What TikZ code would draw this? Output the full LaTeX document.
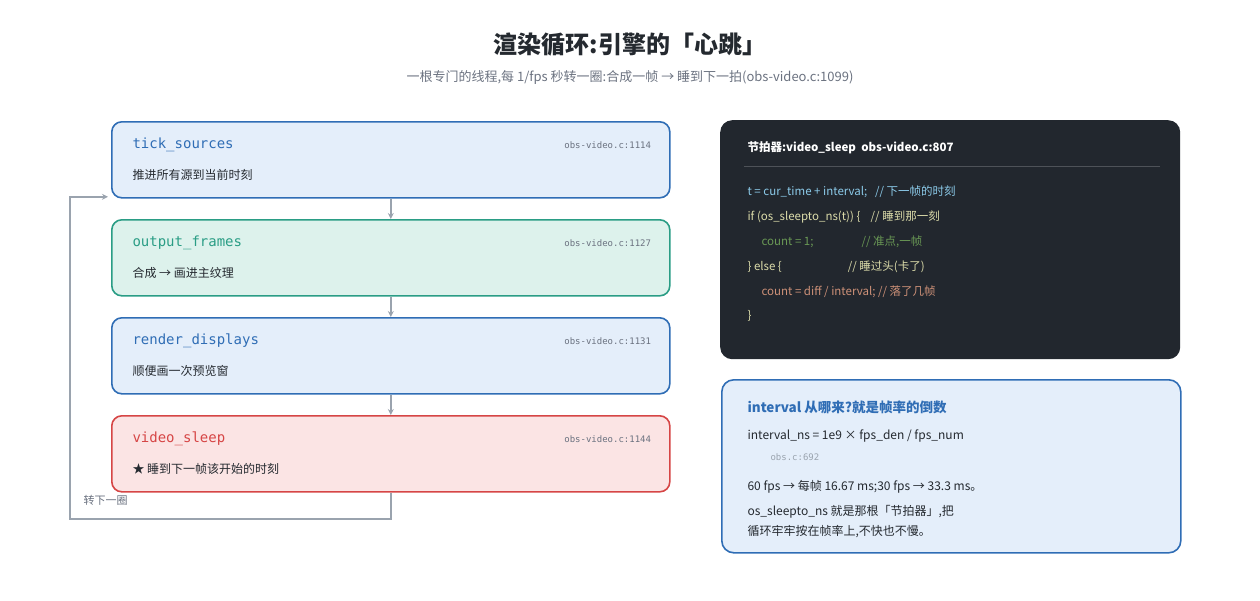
\documentclass[tikz,border=0pt]{standalone}
\usepackage{fontspec}
\setmainfont{Noto Sans CJK SC}
\setmonofont{DejaVu Sans Mono}
\usetikzlibrary{positioning,arrows.meta}
\definecolor{ink}{HTML}{24292F}
\definecolor{sub}{HTML}{6B7280}
\definecolor{bluel}{HTML}{2F6DB5}
\definecolor{bluef}{HTML}{E4EEFA}
\definecolor{greenl}{HTML}{2A9D85}
\definecolor{greenf}{HTML}{DDF2EC}
\definecolor{redl}{HTML}{D64545}
\definecolor{redf}{HTML}{FBE4E4}
\definecolor{codebg}{HTML}{22272E}
\definecolor{cblue}{HTML}{8CCBEA}
\definecolor{cyel}{HTML}{DCDCAA}
\definecolor{cgreen}{HTML}{6A9955}
\definecolor{corange}{HTML}{CE9178}
\definecolor{loopc}{HTML}{9AA3AE}
\tikzset{
  step/.style 2 args={draw=#1,fill=#2,line width=1.6pt,rounded corners=10pt,
    minimum width=558pt,minimum height=76pt,anchor=north west,inner sep=0pt},
  fname/.style={anchor=west,font=\ttfamily\fontsize{14}{16}\selectfont,text=#1},
  fref/.style={anchor=east,font=\ttfamily\fontsize{9}{11}\selectfont,text=sub},
  fdesc/.style={anchor=west,font=\fontsize{12}{14}\selectfont,text=ink},
  cline/.style={anchor=west,font=\fontsize{11.5}{14}\selectfont,text=#1},
  iline/.style={anchor=west,font=\fontsize{12}{14}\selectfont,text=ink},
  flow/.style={draw=loopc,line width=2pt,-{Stealth[length=6pt,width=6pt]}}
}
\begin{document}
\begin{tikzpicture}[x=1pt,y=-1pt]
\useasboundingbox (0,0) rectangle (1260,600);
% title
\node[font=\bfseries\fontsize{24}{28}\selectfont,text=ink] (title) at (630,45) {渲染循环:引擎的「心跳」};
\node[font=\fontsize{13}{16}\selectfont,text=sub] (subtitle) at (630,77) {一根专门的线程,每 1/fps 秒转一圈:合成一帧 → 睡到下一拍(obs-video.c:1099)};

% loop steps
\node[step={bluel}{bluef}] (tick) at (111,121) {};
\node[step={greenl}{greenf}] (output) at (111,219) {};
\node[step={bluel}{bluef}] (render) at (111,317) {};
\node[step={redl}{redf}] (sleep) at (111,415) {};

\node[fname=bluel] (tickN) at ([shift={(18,24)}]tick.north west) {tick\_sources};
\node[fref] (tickR) at ([shift={(-16,24)}]tick.north east) {obs-video.c:1114};
\node[fdesc] (tickD) at ([shift={(18,54)}]tick.north west) {推进所有源到当前时刻};

\node[fname=greenl] (outputN) at ([shift={(18,24)}]output.north west) {output\_frames};
\node[fref] (outputR) at ([shift={(-16,24)}]output.north east) {obs-video.c:1127};
\node[fdesc] (outputD) at ([shift={(18,54)}]output.north west) {合成 → 画进主纹理};

\node[fname=bluel] (renderN) at ([shift={(18,24)}]render.north west) {render\_displays};
\node[fref] (renderR) at ([shift={(-16,24)}]render.north east) {obs-video.c:1131};
\node[fdesc] (renderD) at ([shift={(18,54)}]render.north west) {顺便画一次预览窗};

\node[fname=redl] (sleepN) at ([shift={(18,24)}]sleep.north west) {video\_sleep};
\node[fref] (sleepR) at ([shift={(-16,24)}]sleep.north east) {obs-video.c:1144};
\node[fdesc] (sleepD) at ([shift={(18,54)}]sleep.north west) {★ 睡到下一帧该开始的时刻};

\draw[flow] (tick.south) -- (output.north);
\draw[flow] (output.south) -- (render.north);
\draw[flow] (render.south) -- (sleep.north);

% back to the top
\coordinate (loopA) at (70,519);
\draw[flow] (sleep.south) |- (loopA) |- ([xshift=-3pt,yshift=-37pt]tick.west);
\node[anchor=west,font=\fontsize{11}{13}\selectfont,text=sub] (loopL) at (80,500) {转下一圈};

% code panel
\node[fill=codebg,rounded corners=12pt,minimum width=460pt,minimum height=239pt,anchor=north west] (code) at (720,120) {};
\node[cline=white,font=\bfseries\fontsize{11.5}{14}\selectfont] (codeH) at ([shift={(24,28)}]code.north west) {节拍器:video\_sleep\ \ obs-video.c:807};
\draw[white!20!codebg,line width=0.8pt] ([shift={(24,46)}]code.north west) -- ([shift={(-20,46)}]code.north east);
\node[cline=cblue] (c1) at ([shift={(24,72)}]code.north west) {t = cur\_time + interval;\ \ \ // 下一帧的时刻};
\node[cline=cyel] (c2) at ([shift={(24,97)}]code.north west) {if (os\_sleepto\_ns(t)) \{\ \ \ \ // 睡到那一刻};
\node[cline=cgreen] (c3) at ([shift={(38,122)}]code.north west) {count = 1;\hspace{48pt}// 准点,一帧};
\node[cline=cyel] (c4) at ([shift={(24,147)}]code.north west) {\} else \{\hspace{66pt}// 睡过头(卡了)};
\node[cline=corange] (c5) at ([shift={(38,172)}]code.north west) {count = diff / interval; // 落了几帧};
\node[cline=cyel] (c6) at ([shift={(24,196)}]code.north west) {\}};

% interval note
\node[draw=bluel,fill=bluef,line width=1.6pt,rounded corners=12pt,minimum width=459pt,minimum height=173pt,anchor=north west] (note) at (721,379) {};
\node[anchor=west,font=\bfseries\fontsize{13.5}{16}\selectfont,text=bluel] (noteH) at ([shift={(23,28)}]note.north west) {interval 从哪来?就是帧率的倒数};
\node[iline] (n1) at ([shift={(23,57)}]note.north west) {interval\_ns = 1e9 × fps\_den / fps\_num};
\node[anchor=west,font=\ttfamily\fontsize{9}{11}\selectfont,text=loopc] (n2) at ([shift={(46,78)}]note.north west) {obs.c:692};
\node[iline] (n3) at ([shift={(23,108)}]note.north west) {60 fps → 每帧 16.67 ms;30 fps → 33.3 ms。};
\node[iline] (n4) at ([shift={(23,133)}]note.north west) {os\_sleepto\_ns 就是那根「节拍器」,把};
\node[iline] (n5) at ([shift={(23,153)}]note.north west) {循环牢牢按在帧率上,不快也不慢。};
\end{tikzpicture}
\end{document}
